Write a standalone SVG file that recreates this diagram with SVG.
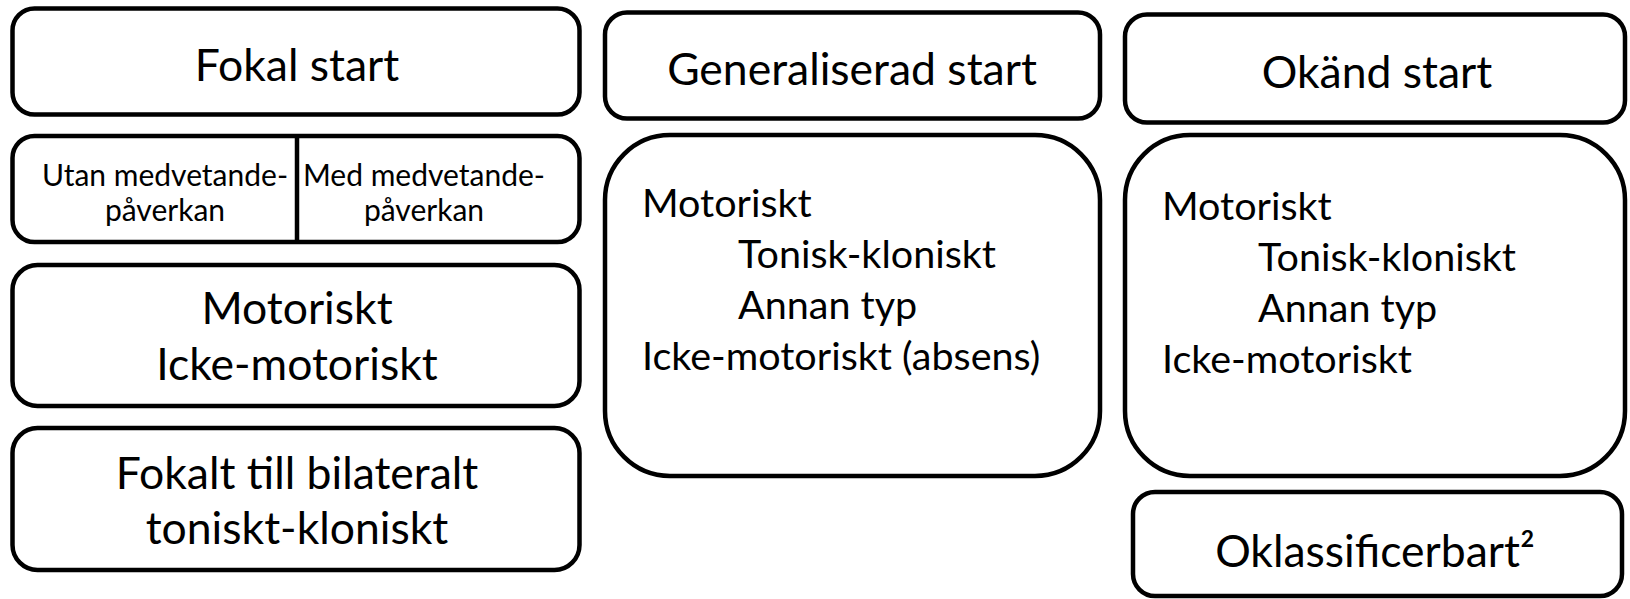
<svg xmlns="http://www.w3.org/2000/svg" width="1630" height="599" viewBox="0 0 1630 599">
<style>
.box{fill:#fff;stroke:#000;stroke-width:4.5}
.t{font-family:Lato,"Open Sans",sans-serif;fill:#000}
.h{font-size:44.5px;text-anchor:middle}
.m{font-size:44.5px;text-anchor:middle}
.s{font-size:30px;text-anchor:middle}
.l{font-size:39.5px}
</style>
<rect width="1630" height="599" fill="#fff"/>
<g id="fokal-start">
<rect class="box" x="12.5" y="8.5" width="567" height="106" rx="22"/>
<text class="t h" x="297" y="81">Fokal start</text>
</g>
<g id="medvetande">
<rect class="box" x="12.5" y="136" width="567" height="106" rx="22"/>
<line x1="297" y1="136" x2="297" y2="242" stroke="#000" stroke-width="4.5"/>
<text class="t s" x="165" y="186">Utan medvetande-</text>
<text class="t s" x="165" y="221">påverkan</text>
<text class="t s" x="424" y="186">Med medvetande-</text>
<text class="t s" x="424" y="221">påverkan</text>
</g>
<g id="fokal-motoriskt">
<rect class="box" x="12.5" y="265" width="567" height="141" rx="25"/>
<text class="t m" x="297" y="324">Motoriskt</text>
<text class="t m" x="297" y="380">Icke-motoriskt</text>
</g>
<g id="fokal-bilateralt">
<rect class="box" x="12.5" y="428" width="567" height="142" rx="25"/>
<text class="t m" x="297" y="489">Fokalt till bilateralt</text>
<text class="t m" x="297" y="544">toniskt-kloniskt</text>
</g>
<g id="generaliserad-start">
<rect class="box" x="605" y="12.5" width="495" height="106" rx="22"/>
<text class="t h" x="852" y="85">Generaliserad start</text>
</g>
<g id="generaliserad-typer">
<rect class="box" x="605" y="135" width="495" height="341" rx="65"/>
<text class="t l" x="642" y="217">Motoriskt</text>
<text class="t l" x="738" y="268">Tonisk-kloniskt</text>
<text class="t l" x="738" y="319">Annan typ</text>
<text class="t l" x="642" y="370">Icke-motoriskt (absens)</text>
</g>
<g id="okand-start">
<rect class="box" x="1125" y="14.5" width="500" height="108" rx="22"/>
<text class="t h" x="1377" y="88">Okänd start</text>
</g>
<g id="okand-typer">
<rect class="box" x="1125" y="135" width="500" height="341" rx="65"/>
<text class="t l" x="1162" y="220">Motoriskt</text>
<text class="t l" x="1258" y="271">Tonisk-kloniskt</text>
<text class="t l" x="1258" y="322">Annan typ</text>
<text class="t l" x="1162" y="373">Icke-motoriskt</text>
</g>
<g id="oklassificerbart">
<rect class="box" x="1133" y="492" width="489" height="104" rx="22"/>
<text class="t h" x="1375" y="567">Oklassificerbart²</text>
</g>
<g id="connectors"></g>
</svg>
